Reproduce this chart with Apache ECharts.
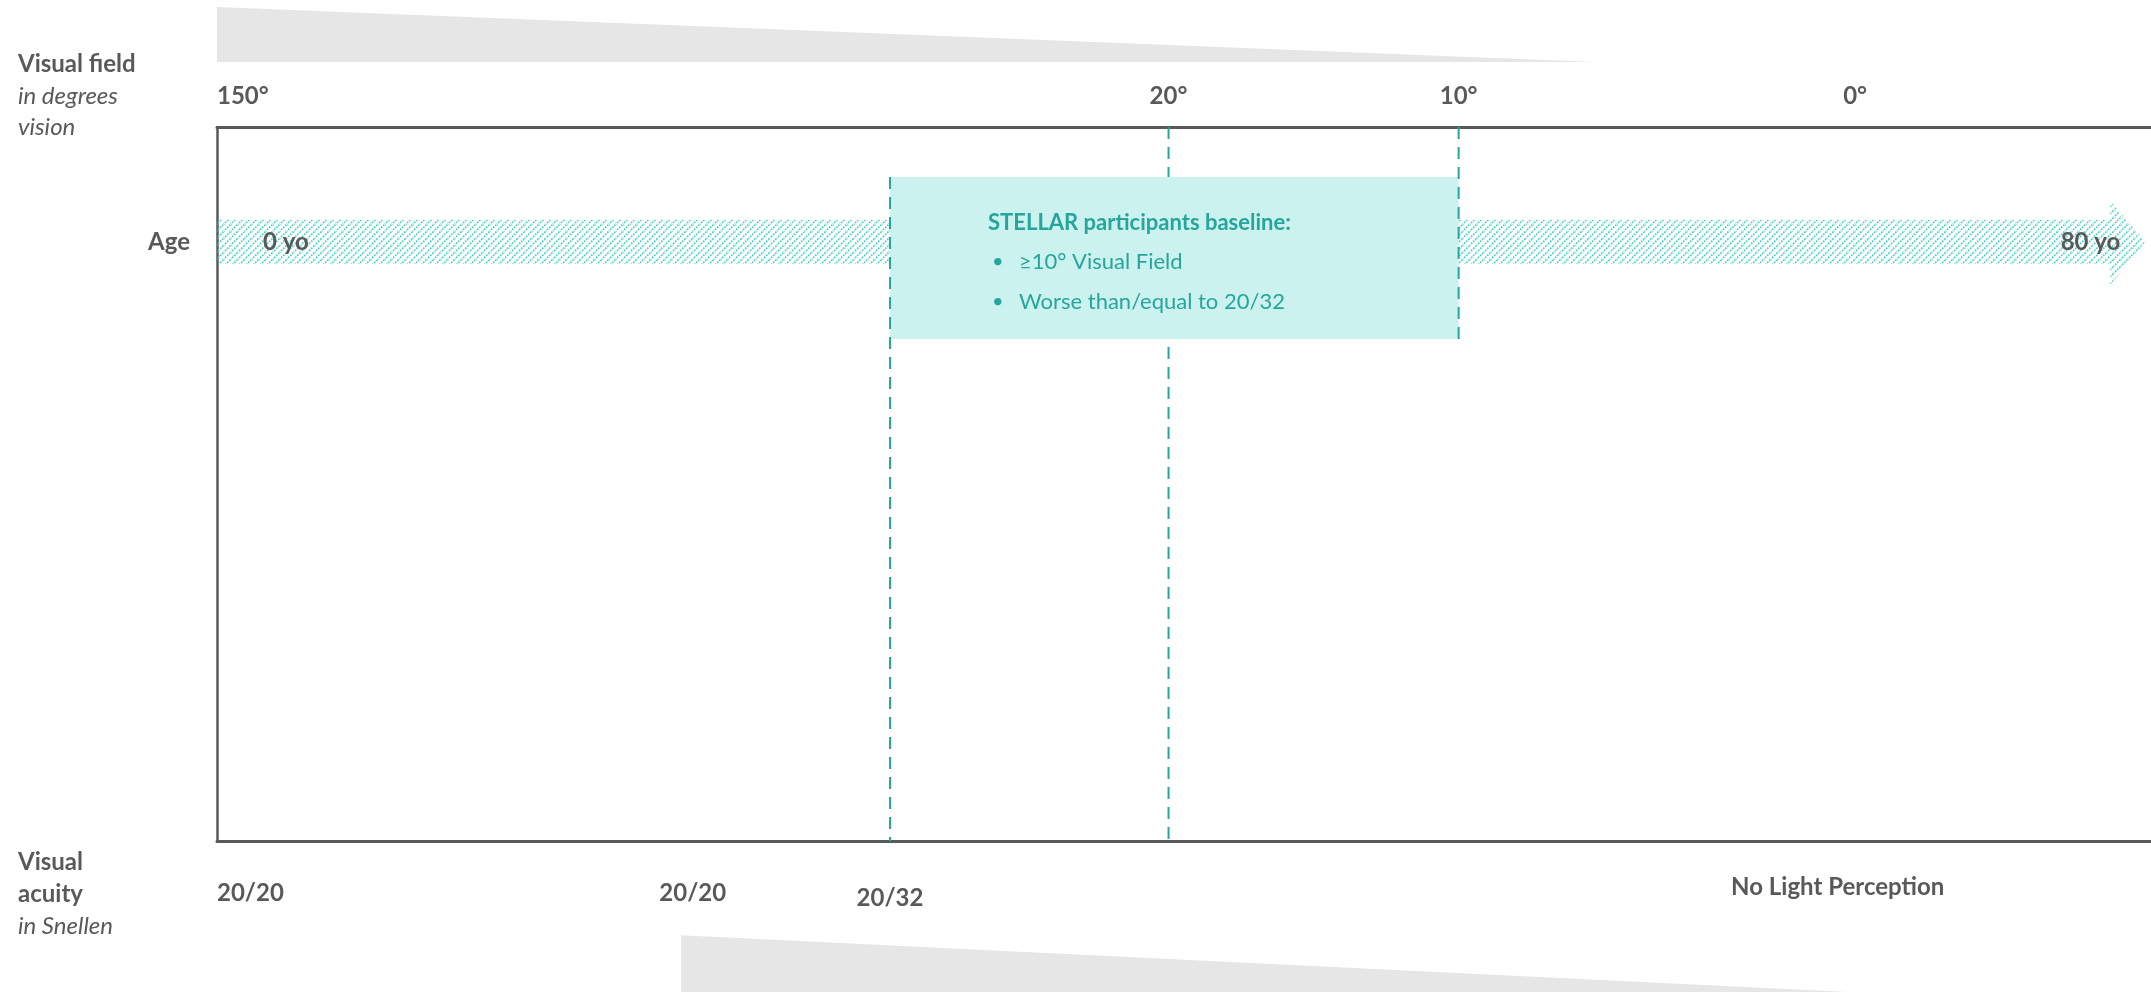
<!DOCTYPE html>
<html><head><meta charset="utf-8">
<script src="https://cdn.jsdelivr.net/npm/echarts@6/dist/echarts.min.js"></script>
<style>html,body{margin:0;padding:0;background:#fff}#c{width:2151px;height:992px}</style>
</head><body><div id="c"></div>
<script>
// Horizontal scale: 0 = left edge of the frame, 100 = right edge of the page.
// Vertical scale: 0 = top of the frame, 100 = bottom of the frame.
const fieldTicks = [0, 49.2, 64.2, 84.7];
const fieldLabels = ['150°', '20°', '10°', '0°'];
const acuityTicks = [0, 24.6, 34.8, 83.8];
const acuityLabels = ['20/20', '20/20', '20/32', 'No Light Perception'];
const acuityStyle = ['a', 'a', 'b', 'n'];

const ageSpan = [0, 97.9, 99.7];          // band start, band end, arrow tip
const ageBand = [13.0, 16.1, 19.2];       // band top, centre, bottom
const ageHead = [10.4, 22.1];             // arrow head top, bottom
const ageLabels = ['0 yo', '80 yo'];
const ageAxisLabel = ['Age'];

const boxX = [acuityTicks[2], fieldTicks[2]];  // 20/32 .. 10°
const boxY = [7.0, 29.7];
const boxTitle = 'STELLAR participants baseline:';
const boxBullets = ['≥10° Visual Field', 'Worse than/equal to 20/32'];

const lineX = [fieldTicks[1], acuityTicks[2], fieldTicks[2]];
const lineFrom = [0, boxY[0], 0];
const lineTo = [100, 100, boxY[1]];
const lineOnTop = [false, true, true];

const fieldWedge = [[0, -16.8], [71.25, -9.1], [0, -9.1]];
const acuityWedge = [[24.0, 113.2], [84.7, 121.2], [24.0, 121.2]];
const wedges = [fieldWedge, acuityWedge];

const GRAY = '#595959', TEAL = '#26A69A', FONT = 'Lato';

function hatch() {
  const c = document.createElement('canvas'); c.width = 7; c.height = 7;
  const g = c.getContext('2d');
  g.strokeStyle = '#48d3c8'; g.lineWidth = 1.6; g.setLineDash([1.8, 1.1]);
  [[-1, 8, 8, -1], [-1, 1, 1, -1], [6, 8, 8, 6]].forEach(s => {
    g.beginPath(); g.moveTo(s[0], s[1]); g.lineTo(s[2], s[3]); g.stroke();
  });
  return c;
}
const hatchPattern = { image: hatch(), repeat: 'repeat' };

const labelBase = { color: GRAY, fontFamily: FONT, fontWeight: 'bold', fontSize: 24, lineHeight: 24 };

function dashedSeries(onTop, z) {
  return {
    type: 'custom', coordinateSystem: 'cartesian2d', clip: false, silent: true, z: z,
    encode: { x: 0, y: 1 },
    data: lineX.map((x, i) => [x, lineFrom[i], i]).filter(d => lineOnTop[d[2]] === onTop),
    renderItem(p, api) {
      const i = api.value(2);
      const a = api.coord([lineX[i], lineFrom[i]]), b = api.coord([lineX[i], lineTo[i]]);
      return { type: 'line', shape: { x1: a[0], y1: a[1], x2: b[0], y2: b[1] },
        style: { stroke: TEAL, lineWidth: 2, lineDash: [12, 8] } };
    }
  };
}

const chart = echarts.init(document.getElementById('c'), null, { renderer: 'canvas' });
const richTitle = lh => ({
  b: { color: GRAY, fontFamily: FONT, fontWeight: 'bold', fontStyle: 'normal', fontSize: 24, lineHeight: lh },
  i: { color: GRAY, fontFamily: FONT, fontWeight: 'normal', fontStyle: 'italic', fontSize: 24, lineHeight: lh }
});
chart.setOption({
  animation: false,
  backgroundColor: '#fff',
  title: [
    { left: 18, top: 49, padding: 0,
      text: '{b|Visual field}\n{i|in degrees}\n{i|vision}',
      textStyle: { fontWeight: 'normal', rich: richTitle(31.5) } },
    { left: 18, top: 846, padding: 0,
      text: '{b|Visual}\n{b|acuity}\n{i|in Snellen}',
      textStyle: { fontWeight: 'normal', rich: richTitle(32) } }
  ],
  grid: { left: 217, right: 0, top: 127, bottom: 151, outerBoundsMode: 'none' },
  xAxis: [
    { type: 'value', position: 'top', min: 0, max: 100,
      axisLine: { show: true, onZero: false, lineStyle: { color: GRAY, width: 3 } },
      axisTick: { show: false }, splitLine: { show: false },
      axisLabel: Object.assign({}, labelBase, {
        customValues: fieldTicks, margin: 19, alignMinLabel: 'left',
        formatter: v => fieldLabels[fieldTicks.indexOf(v)] }) },
    { type: 'value', position: 'bottom', min: 0, max: 100,
      axisLine: { show: true, onZero: false, lineStyle: { color: GRAY, width: 3 } },
      axisTick: { show: false }, splitLine: { show: false },
      axisLabel: Object.assign({}, labelBase, {
        customValues: acuityTicks, margin: 34, alignMinLabel: 'left',
        formatter: v => { const i = acuityTicks.indexOf(v); return '{' + acuityStyle[i] + '|' + acuityLabels[i] + '}'; },
        rich: {
          a: Object.assign({}, labelBase, { padding: [12, 0, 0, 0] }),
          b: Object.assign({}, labelBase, { padding: [22, 0, 0, 0] }),
          n: Object.assign({}, labelBase)
        } }) }
  ],
  yAxis: {
    type: 'value', min: 0, max: 100, inverse: true,
    axisLine: { show: true, onZero: false, lineStyle: { color: GRAY, width: 2.5 } },
    axisTick: { show: false }, splitLine: { show: false },
    axisLabel: Object.assign({}, labelBase, {
      customValues: [ageBand[1]], margin: 27, formatter: () => ageAxisLabel[0] })
  },
  series: [
    { type: 'custom', coordinateSystem: 'cartesian2d', clip: false, silent: true, z: 1,
      encode: { x: 0, y: 1 },
      data: wedges.map((w, i) => [w[0][0], w[0][1], i]),
      renderItem(p, api) {
        const w = wedges[api.value(2)];
        return { type: 'polygon', shape: { points: w.map(pt => api.coord(pt)) }, style: { fill: '#E6E6E6' } };
      } },
    { type: 'custom', coordinateSystem: 'cartesian2d', clip: false, silent: true, z: 2,
      encode: { x: 0, y: 1 },
      data: [[ageSpan[0], ageBand[1]]],
      renderItem(p, api) {
        const pts = [
          [ageSpan[0], ageBand[0]], [ageSpan[1], ageBand[0]], [ageSpan[1], ageHead[0]],
          [ageSpan[2], ageBand[1]], [ageSpan[1], ageHead[1]], [ageSpan[1], ageBand[2]],
          [ageSpan[0], ageBand[2]]
        ].map(pt => api.coord(pt));
        const s = api.coord([ageSpan[0], ageBand[1]]), e = api.coord([ageSpan[1], ageBand[1]]);
        return { type: 'group', children: [
          { type: 'polygon', shape: { points: pts }, style: { fill: hatchPattern } },
          { type: 'text', x: s[0] + 46, y: s[1], style: Object.assign({ text: ageLabels[0], align: 'left', verticalAlign: 'middle' }, labelBase, { fill: GRAY }) },
          { type: 'text', x: e[0] + 10, y: e[1], style: Object.assign({ text: ageLabels[1], align: 'right', verticalAlign: 'middle' }, labelBase, { fill: GRAY }) }
        ] };
      } },
    dashedSeries(false, 3),
    { type: 'custom', coordinateSystem: 'cartesian2d', clip: false, silent: true, z: 4,
      encode: { x: 0, y: 1 },
      data: [[boxX[0], boxY[0]]],
      renderItem(p, api) {
        const tl = api.coord([boxX[0], boxY[0]]), br = api.coord([boxX[1], boxY[1]]);
        const txt = { fontFamily: FONT, fontSize: 22, fill: TEAL, verticalAlign: 'middle', align: 'left' };
        const children = [
          { type: 'rect', shape: { x: tl[0], y: tl[1], width: br[0] - tl[0], height: br[1] - tl[1] }, style: { fill: '#CCF2F0' } },
          { type: 'text', x: tl[0] + 98, y: tl[1] + 46, style: Object.assign({}, txt, { text: boxTitle, fontWeight: 'bold' }) }
        ];
        boxBullets.forEach((b, k) => {
          children.push({ type: 'text', x: tl[0] + 102, y: tl[1] + 85 + 40 * k, style: Object.assign({}, txt, { text: '•', fontSize: 20 }) });
          children.push({ type: 'text', x: tl[0] + 129, y: tl[1] + 85 + 40 * k, style: Object.assign({}, txt, { text: b }) });
        });
        return { type: 'group', children };
      } },
    dashedSeries(true, 5)
  ]
});
</script></body></html>
